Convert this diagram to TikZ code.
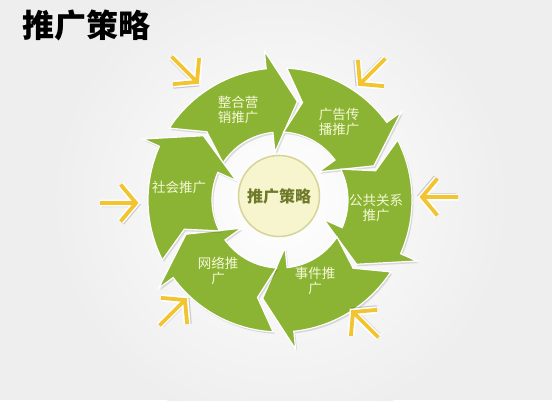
\documentclass[tikz,border=0pt]{standalone}
\usepackage{fontspec}
\newfontfamily\cjk{Noto Sans CJK SC}
\usetikzlibrary{calc}
\definecolor{arrgreen}{RGB}{140,180,52}
\definecolor{lblc}{RGB}{244,248,214}
\definecolor{ctrfill}{RGB}{246,245,206}
\definecolor{ctrdraw}{RGB}{214,212,150}
\definecolor{ctrtext}{RGB}{110,122,42}
\definecolor{yel}{RGB}{242,196,48}
\definecolor{bgc}{RGB}{238,238,238}
\newcommand\segpath{(\A:132) arc[start angle=\A, end angle=\B, radius=132] -- (\B:150) -- (\T:100) -- (\B:48) -- (\B:68) arc[start angle=\B, end angle=\A, radius=68] -- (\N:100) -- cycle}
\begin{document}
\begin{tikzpicture}[x=1pt,y=1pt,
  seg/.style={fill=arrgreen, draw=white, line width=1.2pt, line join=miter},
  segshadow/.style={fill=black, opacity=0.12},
  lbl/.style={font=\cjk\fontsize{13.5}{15.5}\selectfont, text=lblc, align=center, inner sep=0pt},
  yshadow/.style={draw=black, opacity=0.18, line width=5pt},
  ywhite/.style={draw=white, line width=7pt},
  yline/.style={draw=yel, line width=3.8pt}]
\useasboundingbox (0,0) rectangle (552,400);
\fill[bgc] (0,0) rectangle (552,400);
\shade[inner color=white, outer color=bgc] (280,200) circle (230);
% green segments
\coordinate (C) at (280,200);
\foreach \k in {0,...,5}{
  \pgfmathsetmacro\B{96-60*\k}
  \pgfmathsetmacro\T{\B-16}
  \pgfmathsetmacro\A{\B+51}
  \pgfmathsetmacro\N{\B+41}
  \fill[segshadow, shift={(281.5,198)}] \segpath;
  \path[seg, shift={(C)}] \segpath;
}
% centre
\node[circle, fill=ctrfill, draw=ctrdraw, line width=1.5pt, minimum size=81pt, inner sep=0pt] (ctr) at (279,204) {};
\node[font=\cjk\bfseries\fontsize{16}{18}\selectfont, text=ctrtext] (ctrtxt) at (ctr) {推广策略};
% labels
\node[lbl] (l1) at (238,290) {整合营\\销推广};
\node[lbl] (l2) at (339,278) {广告传\\播推广};
\node[lbl] (l3) at (376,192) {公共关系\\推广};
\node[lbl] (l4) at (315,119) {事件推\\广};
\node[lbl] (l5) at (218,129) {网络推\\广};
\node[lbl] (l6) at (179,213) {社会推广};
% title
\node[anchor=west, font=\cjk\bfseries\fontsize{32}{35}\selectfont, text=black, inner sep=0pt] (title) at (22,375) {推广策略};
% yellow arrows
\foreach \x/\y/\a [count=\i] in {197/318/-45, 360/316/-135, 422/203/180, 353/88/135, 185/100/45, 136/197/0}{
  \coordinate (y\i) at (\x,\y);
  \begin{scope}[shift={(y\i)}, rotate=\a]
    \draw[yshadow, shift={(1.5,-1.5)}] (-15.4,18.4) -- (0,0) -- (-15.4,-18.4) (-1,0) -- (-36,0);
    \draw[ywhite] (-15.4,18.4) -- (0,0) -- (-15.4,-18.4) (-1,0) -- (-36,0);
    \draw[yline] (-15.4,18.4) -- (0,0) -- (-15.4,-18.4) (-1,0) -- (-36,0);
  \end{scope}
}
\end{tikzpicture}
\end{document}
